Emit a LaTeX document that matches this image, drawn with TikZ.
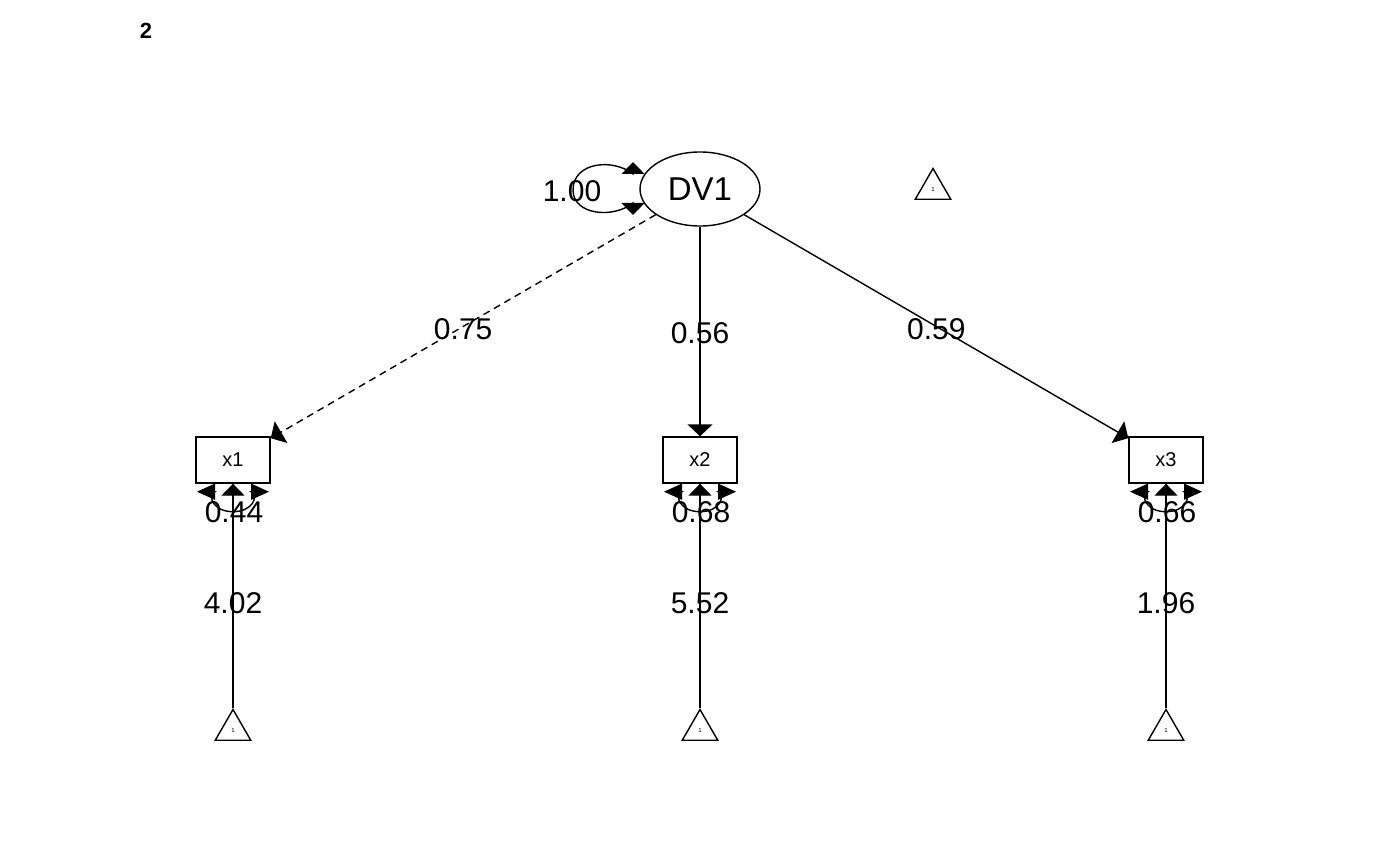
\documentclass[tikz,border=0pt]{standalone}
\usepackage{fontspec}
\setmainfont{Liberation Sans}
\usetikzlibrary{arrows.meta,shapes.geometric,calc}
\tikzset{
  lat/.style={draw,ellipse,line width=1.4pt,minimum width=120pt,minimum height=74pt,inner sep=0pt,font=\fontsize{33}{38}\selectfont},
  man/.style={draw,rectangle,line width=1.4pt,minimum width=74pt,minimum height=46pt,inner sep=0pt,font=\fontsize{20}{24}\selectfont},
  cst/.style={draw,regular polygon,regular polygon sides=3,line width=1.4pt,minimum size=41pt,inner sep=0pt,font=\fontsize{6}{7}\selectfont},
  edge/.style={line width=1.4pt,-{Triangle[length=12pt,width=25pt]}},
  icpt/.style={line width=1.4pt,-{Triangle[length=12pt,width=23pt]}},
  loopar/.style={line width=1.4pt,{Triangle[length=12pt,width=23pt]}-{Triangle[length=12pt,width=23pt]}},
  resar/.style={line width=1.4pt,{Triangle[length=18pt,width=16pt]}-{Triangle[length=18pt,width=16pt]}},
  lab/.style={font=\fontsize{30}{34}\selectfont,inner sep=0pt},
}
\begin{document}
\begin{tikzpicture}[x=1pt,y=-1pt]
\useasboundingbox (0,0) rectangle (1400,866);
\node[font=\bfseries\fontsize{22}{26}\selectfont] (num) at (146,31) {2};
\node[lat] (dv1) at (700,189) {DV1};
\node[cst] (tdv) at (933,189) {1};
\node[man] (x1) at (233,460) {x1};
\node[man] (x2) at (700,460) {x2};
\node[man] (x3) at (1166,460) {x3};
\node[cst] (t1) at (233,730) {1};
\node[cst] (t2) at (700,730) {1};
\node[cst] (t3) at (1166,730) {1};
% factor loadings
\draw[edge,dash pattern=on 7pt off 5pt] (dv1) -- (x1) node[lab,pos=0.5,yshift=-3pt] (l1) {0.75};
\draw[edge] (dv1) -- (x2) node[lab,pos=0.5,yshift=-2pt] (l2) {0.56};
\draw[edge] (dv1) -- (x3) node[lab,pos=0.5,yshift=-3pt] (l3) {0.59};
% latent variance loop
\coordinate (lpa) at ($(dv1.center)+(-67,-27)$);
\coordinate (lpb) at ($(dv1.center)+(-67,26)$);
\draw[loopar] (lpa) -- ($(lpa)+(0,12)$) .. controls ($(lpa)+(-20,-4)$) and ($(lpa)+(-60,0)$) .. ($(lpa)+(-60,28)$) .. controls ($(lpb)+(-60,0)$) and ($(lpb)+(-20,4)$) .. ($(lpb)+(0,-12)$) -- (lpb);
\node[lab] (lv) at (572,191) {1.00};
% residuals and intercepts
\foreach \n/\t/\r/\i in {x1/t1/0.44/4.02, x2/t2/0.68/5.52, x3/t3/0.66/1.96}{
  \draw[resar] ($(\n.south)+(-36,8)$) -- ($(\n.south)+(-18,8)$) .. controls ($(\n.south)+(-26,12)$) and ($(\n.south)+(-20,28)$) .. ($(\n.south)+(0,28)$) .. controls ($(\n.south)+(20,28)$) and ($(\n.south)+(26,12)$) .. ($(\n.south)+(18,8)$) -- ($(\n.south)+(36,8)$);
  \node[lab] (r\n) at ($(\n.south)+(1,28)$) {\r};
  \draw[icpt] (\t.corner 1) -- (\n.south) node[lab,pos=0.467] (i\n) {\i};
}
\end{tikzpicture}
\end{document}
